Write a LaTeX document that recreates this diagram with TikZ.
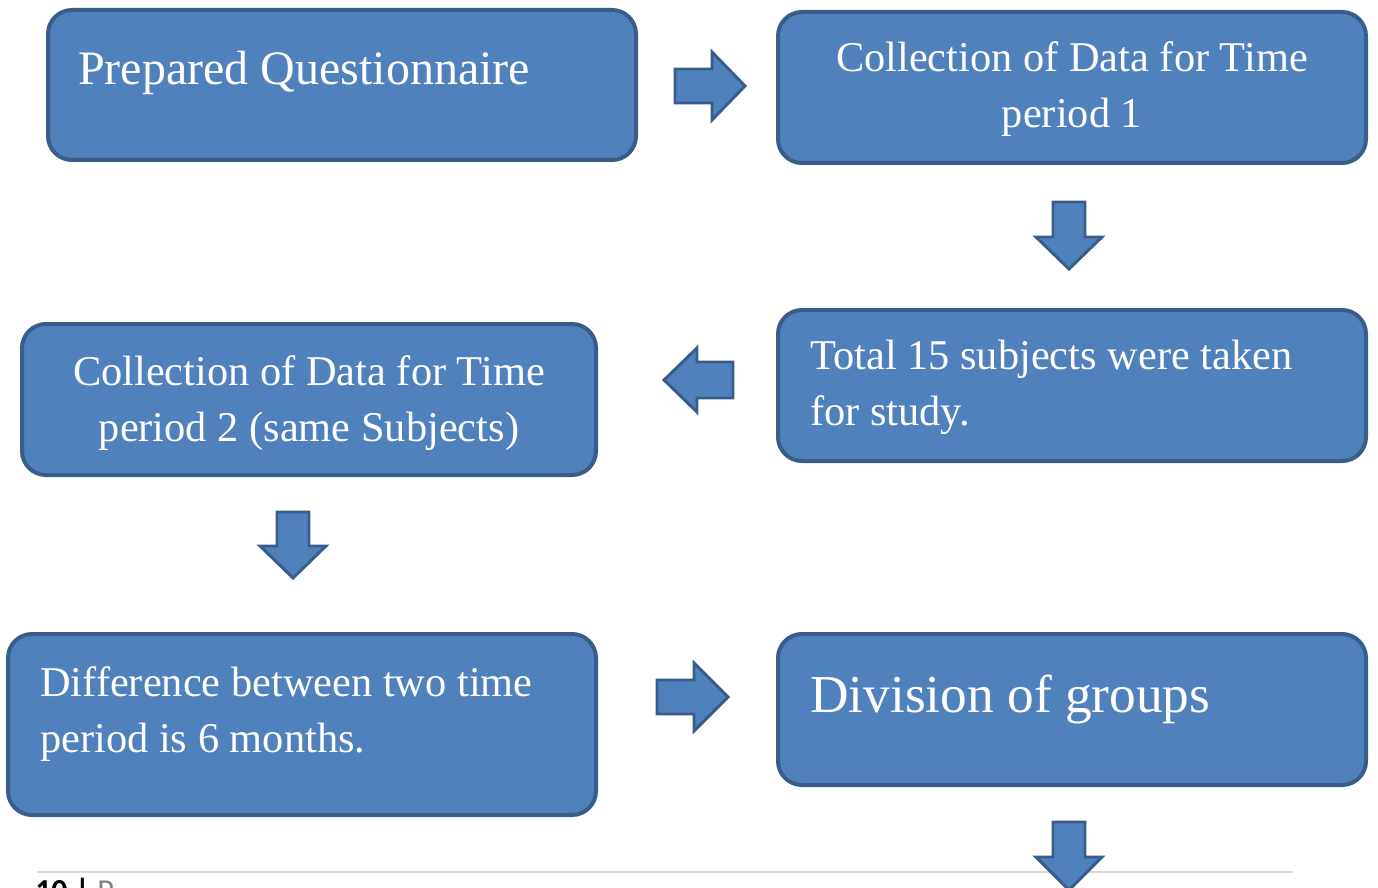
\documentclass[tikz,border=0pt]{standalone}
\usepackage{fontspec}
\setmainfont{Liberation Serif}
\setsansfont{Carlito}
\definecolor{boxfill}{HTML}{4F81BD}
\definecolor{boxline}{HTML}{385D8A}
\definecolor{footline}{HTML}{D9D9D9}
\begin{document}
\begin{tikzpicture}[x=0.75pt,y=-0.75pt,
  card/.style={draw=boxline,fill=boxfill,line width=3pt,rounded corners=18pt,inner sep=0pt},
  barrow/.style={draw=boxline,fill=boxfill,line width=2.2pt,line join=miter},
  txt/.style={text=white,inner sep=0pt,font=\fontsize{31.8}{42}\selectfont},
  bigtxt/.style={text=white,inner sep=0pt,font=\fontsize{36}{42}\selectfont},
  hugetxt/.style={text=white,inner sep=0pt,font=\fontsize{40}{48}\selectfont}]
\useasboundingbox (0,0) rectangle (1378,888);
% footer
\coordinate (fl) at (37,872);
\coordinate (fr) at (1293,872);
\draw[footline,line width=1.2pt] (fl) -- (fr);
\node[anchor=base west,inner sep=0pt,font=\sffamily\bfseries\fontsize{24}{28}\selectfont] (foot) at (35,901) {10 | \textcolor{gray}{\mdseries P}};
% boxes
\draw[card] (48,10) rectangle (636,160);
\node[bigtxt,anchor=base west] (t1) at (78,85) {Prepared Questionnaire};
\draw[card] (778,12) rectangle (1366,163);
\node[txt,anchor=base,align=center] (t2) at (1072,128) {Collection of Data for Time\\period 1};
\draw[card] (778,310) rectangle (1366,461);
\node[txt,anchor=base west,align=left] (t3) at (810,425) {Total 15 subjects were taken\\for study.};
\draw[card] (22,324) rectangle (596,475);
\node[txt,anchor=base,align=center] (t4) at (309,441) {Collection of Data for Time\\period 2 (same Subjects)};
\draw[card] (8,634) rectangle (596,815);
\node[txt,anchor=base west,align=left] (t5) at (40,752) {Difference between two time\\period is 6 months.};
\draw[card] (778,634) rectangle (1366,785);
\node[hugetxt,anchor=base west] (t6) at (810,712) {Division of groups};
% block arrows
\draw[barrow] (675,69) -- (712,69) -- (712,52) -- (745,86) -- (712,120) -- (712,103) -- (675,103) -- cycle;
\draw[barrow] (1053,202) -- (1085,202) -- (1085,237) -- (1102,237) -- (1069,269) -- (1036,237) -- (1053,237) -- cycle;
\draw[barrow] (733,362) -- (697,362) -- (697,348) -- (664,380) -- (697,412) -- (697,398) -- (733,398) -- cycle;
\draw[barrow] (277,512) -- (309,512) -- (309,546) -- (326,546) -- (293,578) -- (260,546) -- (277,546) -- cycle;
\draw[barrow] (657,680) -- (694,680) -- (694,663) -- (728,697) -- (694,731) -- (694,714) -- (657,714) -- cycle;
\draw[barrow] (1053,822) -- (1085,822) -- (1085,857) -- (1102,857) -- (1069,890) -- (1036,857) -- (1053,857) -- cycle;
\end{tikzpicture}
\end{document}
